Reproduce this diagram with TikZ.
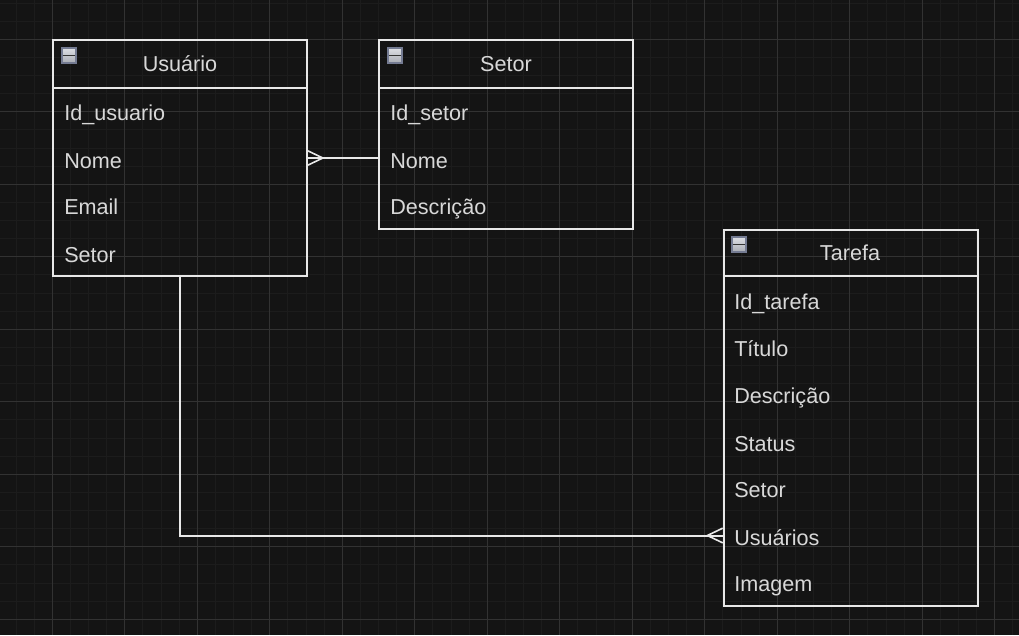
\documentclass[tikz,border=0pt]{standalone}
\usepackage{fontspec}
\setmainfont{Liberation Sans}
\usetikzlibrary{arrows.meta,positioning}
\definecolor{canvas}{HTML}{141414}
\definecolor{gridminor}{HTML}{1C1C1C}
\definecolor{gridmajor}{HTML}{323232}
\definecolor{inkline}{HTML}{E8E8E8}
\definecolor{inktext}{HTML}{D8D8D8}
\definecolor{iconedge}{HTML}{747B92}
\definecolor{icontop}{HTML}{DDDFE4}
\definecolor{iconlow}{HTML}{A9ACB4}
\tikzset{
  entity/.style={draw=inkline,line width=1.5pt,minimum width=190.5pt,inner sep=0pt,outer sep=0pt,anchor=north west},
  title/.style={text=inktext,font=\fontsize{16.2}{18}\selectfont,inner sep=0pt,anchor=base},
  field/.style={text=inktext,font=\fontsize{16.2}{18}\selectfont,inner sep=0pt,anchor=base west},
  collapse/.style={top color=icontop,bottom color=iconlow,draw=iconedge,line width=1.5pt,minimum size=11.2pt,inner sep=0pt,outer sep=0pt,anchor=north west},
  link/.style={draw=inkline,line width=1.5pt},
  crowfoot/.style={-{Straight Barb[reversed,length=11.5pt,width=11pt,line width=1.2pt]}}
}
\begin{document}
\begin{tikzpicture}[x=0.75pt,y=-0.75pt]
  \fill[canvas] (0,0) rectangle (1019,635);
  \useasboundingbox (0,0) rectangle (1019,635);

  % grid
  \foreach \i in {0,...,56} {
    \draw[gridminor,line width=0.75pt] ({16.05+18.125*\i},0) -- ({16.05+18.125*\i},635);
  }
  \foreach \i in {0,...,35} {
    \draw[gridminor,line width=0.75pt] (0,{3.05+18.125*\i}) -- (1019,{3.05+18.125*\i});
  }
  \foreach \i in {0,...,13} {
    \draw[gridmajor,line width=0.75pt] ({52.3+72.5*\i},0) -- ({52.3+72.5*\i},635);
  }
  \foreach \i in {0,...,8} {
    \draw[gridmajor,line width=0.75pt] (0,{39.3+72.5*\i}) -- (1019,{39.3+72.5*\i});
  }

  % entities
  \node[entity,minimum height=176.6pt] (usuario) at (52.7,40.5) {};
  \node[entity,minimum height=141.4pt] (setor) at (379.3,40.5) {};
  \node[entity,minimum height=282.5pt] (tarefa) at (723.5,229.5) {};

  \draw[link] (usuario.west |- 0,87.5) -- (usuario.east |- 0,87.5);
  \draw[link] (setor.west |- 0,87.5) -- (setor.east |- 0,87.5);
  \draw[link] (tarefa.west |- 0,275.5) -- (tarefa.east |- 0,275.5);

  \node[collapse] (iconU) at (61.5,48) {};
  \node[collapse] (iconS) at (387.5,48) {};
  \node[collapse] (iconT) at (731.5,237) {};
  \foreach \n in {iconU,iconS,iconT}
    \draw[black!80,line width=1pt] ([xshift=-4.5pt]\n.center) -- ([xshift=4.5pt]\n.center);

  \node[title] (tU) at (180,71) {Usuário};
  \node[title] (tS) at (506,71) {Setor};
  \node[title] (tT) at (850,260) {Tarefa};

  \node[field] (u1) at (64,120) {Id\_usuario};
  \node[field] (u2) at (64,168) {Nome};
  \node[field] (u3) at (64,214) {Email};
  \node[field] (u4) at (64,262) {Setor};

  \node[field] (s1) at (390,120) {Id\_setor};
  \node[field] (s2) at (390,168) {Nome};
  \node[field] (s3) at (390,214) {Descrição};

  \node[field] (t1) at (734,309) {Id\_tarefa};
  \node[field] (t2) at (734,356) {Título};
  \node[field] (t3) at (734,403) {Descrição};
  \node[field] (t4) at (734,451) {Status};
  \node[field] (t5) at (734,497) {Setor};
  \node[field] (t6) at (734,545) {Usuários};
  \node[field] (t7) at (734,591) {Imagem};

  % links
  \coordinate (portU) at (usuario.east |- 0,158);
  \coordinate (portS) at (setor.west |- 0,158);
  \coordinate (portT) at (tarefa.west |- 0,535.5);
  \draw[link] (portS) -- (portU);
  \draw[link,crowfoot] (portS) -- (portU);
  \draw[link] (usuario.south) |- (portT);
  \draw[link,crowfoot] (usuario.south) |- (portT);
\end{tikzpicture}
\end{document}
